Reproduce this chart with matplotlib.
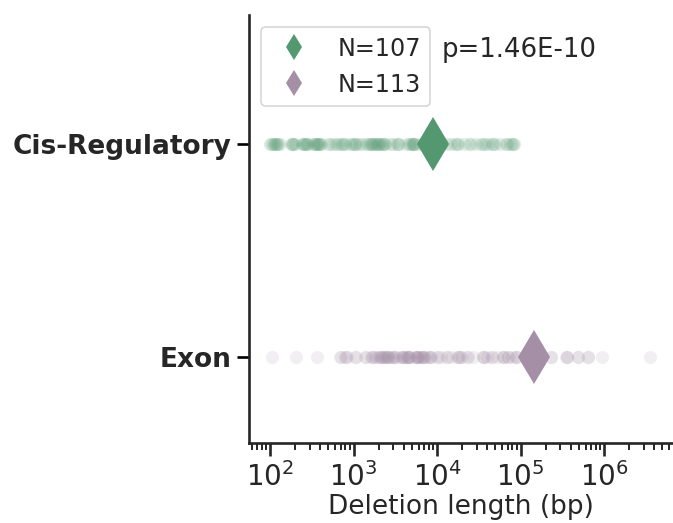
import matplotlib
matplotlib.use("Agg")
import matplotlib.pyplot as plt
import numpy as np

# Deletion lengths (bp) per category
categories = ["Cis-Regulatory", "Exon"]

cis_lengths = [
    100, 104, 108, 112, 118, 125, 131, 115, 121,
    176, 182, 190, 198, 187,
    240, 255, 263, 270, 285, 248, 278,
    330, 350, 362, 375, 390, 410, 345, 368, 395,
    500, 525, 560, 620, 660,
    700, 735, 760, 800, 900, 950,
    1000, 1040, 1080, 1150, 1250, 1400, 1500,
    1580, 1600, 1650, 1700, 1750, 1850,
    1900, 1950, 2010, 2100,
    2200, 2250, 2300, 2380, 2700, 3000,
    3300, 3400, 3500, 4200,
    4600, 4800, 5000, 5200, 5100, 5300, 5500, 6000,
    6800, 7200, 7600, 8000, 9500,
    10500, 11000, 11500, 13000, 14500,
    16500, 17400, 18000, 21000,
    24000, 25500, 29000,
    34000, 35500, 37000, 41000,
    45000, 47000, 49000, 56000,
    66000, 68000, 74000,
    80000, 82000, 84000,
]

exon_lengths = [
    105, 204, 363,
    690, 710, 800, 813, 830,
    1030, 1060, 1360, 1400,
    1620, 1660, 1700, 1800, 1900,
    2100, 2138, 2180, 2250, 2300, 2000,
    2450, 2512, 2560, 2600, 2650, 2400,
    2900, 2951, 3000, 3100, 3200,
    3800, 3890, 3950, 4000, 3600,
    4400, 4467, 4500, 4550, 4600, 4300, 4800,
    5600, 5700, 5754, 5800, 5900, 6000, 5400,
    6500, 6607, 6700, 6800, 6900, 7200,
    8200, 8318, 8500, 7800,
    10100, 10233, 11000,
    13000, 13183, 14500,
    17500, 17783, 18200, 18600, 20000,
    23000, 23442, 27000,
    35000, 35481, 36000, 40000,
    45000, 45709, 52000,
    61000, 61660, 63000,
    70000, 70795, 78000,
    88000, 89125, 91000,
    115000, 117490, 120000,
    165000, 169824,
    232000, 234423,
    350000, 354813, 360000,
    485000, 489779,
    640000, 645654,
    933254,
    3548134,
]

# Mean deletion length per category (large markers)
category_means = [8900, 145000]
sample_sizes = [107, 113]
p_value_text = "p=1.46E-10"

colors = ["#54986f", "#a48fa7"]

plt.rcParams["font.family"] = ["DejaVu Sans"]

fig = plt.figure(figsize=(6.73, 5.23), dpi=100)
ax = fig.add_axes([0.370, 0.153, 0.6285, 0.818])

for i, (vals, col) in enumerate(zip([cis_lengths, exon_lengths], colors)):
    ax.plot(vals, np.full(len(vals), i), "o", color=col, alpha=0.14,
            markersize=9.5, markeredgewidth=0, zorder=2)

handles = []
for i, (m, col, n) in enumerate(zip(category_means, colors, sample_sizes)):
    h, = ax.plot([m], [i], "d", color=col, markersize=27,
                 markeredgewidth=0, zorder=3, label=f"N={n}")
    handles.append(h)

ax.set_xscale("log")
ax.set_xlim(56, 6.5e6)
ax.set_ylim(1.4, -0.6)
ax.set_yticks(range(len(categories)))
ax.set_yticklabels(categories, fontsize=19, fontweight="bold", color="#262626")
ax.tick_params(axis="x", labelsize=20, colors="#262626", pad=5)
ax.tick_params(which="major", length=9, width=1.9)
ax.tick_params(which="minor", length=5, width=1.2)
ax.set_xlabel("Deletion length (bp)", fontsize=19, color="#262626", labelpad=1)

for side in ["top", "right"]:
    ax.spines[side].set_visible(False)
for side in ["left", "bottom"]:
    ax.spines[side].set_linewidth(1.9)
    ax.spines[side].set_color("#262626")

leg = ax.legend(handles=handles, loc="upper left", fontsize=17.2,
                markerscale=0.5, frameon=True, fancybox=True)
leg.get_frame().set_edgecolor("#cccccc")
leg.get_frame().set_linewidth(1.2)
for t in leg.get_texts():
    t.set_color("#262626")

ax.text(0.456, 0.918, p_value_text, transform=ax.transAxes, fontsize=18.7,
        va="center", ha="left", color="#262626")

fig.savefig("out.png", dpi=100)
